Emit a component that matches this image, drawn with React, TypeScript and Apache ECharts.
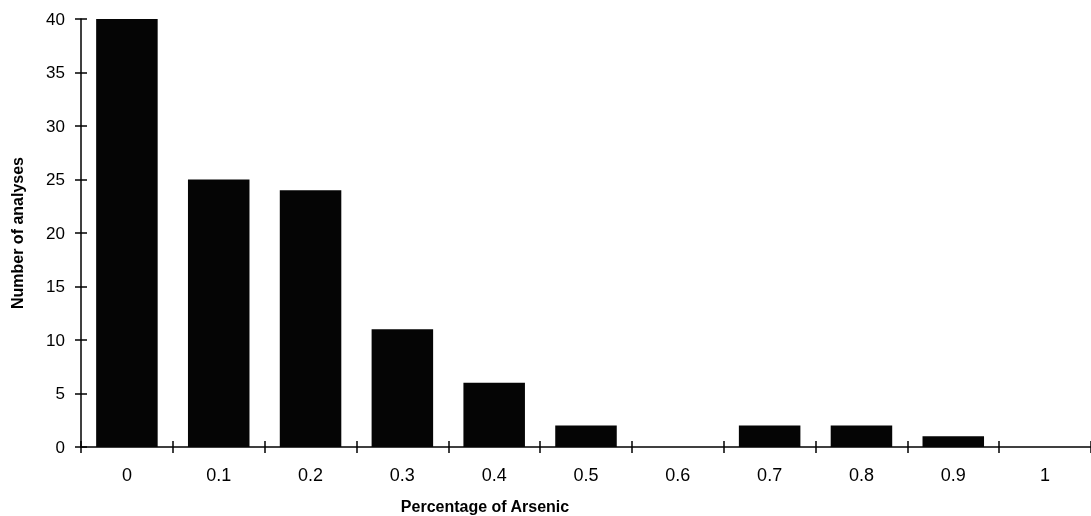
import React, { useEffect, useRef } from "react";
import * as echarts from "echarts";

const categories = ["0", "0.1", "0.2", "0.3", "0.4", "0.5", "0.6", "0.7", "0.8", "0.9", "1"];
const counts = [40, 25, 24, 11, 6, 2, 0, 2, 2, 1, 0];
const yTicks = { min: 0, max: 40, interval: 5 };

export default function App() {
  const ref = useRef<HTMLDivElement>(null);
  useEffect(() => {
    const chart = echarts.init(ref.current!, null, { renderer: "svg" });
    const font = "Arial, 'Liberation Sans', Helvetica, sans-serif";
    const axisLine = { lineStyle: { color: "#000", width: 1.5 } };
    const tickStyle = { color: "#000", width: 1.5 };
    chart.setOption({
      animation: false,
      grid: { left: 81, top: 19, right: 0, bottom: 69 },
      xAxis: [
        {
          type: "category",
          data: categories,
          axisLine,
          axisTick: { show: true, length: 6, lineStyle: tickStyle },
          axisLabel: { color: "#000", fontFamily: font, fontSize: 18, margin: 19 },
        },
        {
          type: "category",
          data: categories,
          position: "bottom",
          axisLine: { show: false },
          axisTick: { show: true, inside: true, length: 6, lineStyle: tickStyle },
          axisLabel: { show: false },
        },
      ],
      yAxis: [
        {
          type: "value",
          min: yTicks.min,
          max: yTicks.max,
          interval: yTicks.interval,
          splitLine: { show: false },
          axisLine: { show: true, ...axisLine },
          axisTick: { show: true, length: 6, lineStyle: tickStyle },
          axisLabel: { color: "#000", fontFamily: font, fontSize: 17, margin: 16 },
        },
        {
          type: "value",
          position: "left",
          min: yTicks.min,
          max: yTicks.max,
          interval: yTicks.interval,
          splitLine: { show: false },
          axisLine: { show: false },
          axisTick: { show: true, inside: true, length: 6, lineStyle: tickStyle },
          axisLabel: { show: false },
        },
      ],
      series: [
        {
          type: "bar",
          data: counts,
          barCategoryGap: "33%",
          itemStyle: { color: "#050505" },
        },
      ],
      graphic: [
        {
          type: "text",
          x: 17,
          y: 233,
          rotation: Math.PI / 2,
          style: {
            text: "Number of analyses",
            fill: "#000",
            font: `bold 16px ${font}`,
            align: "center",
            verticalAlign: "middle",
          },
        },
        {
          type: "text",
          x: 485,
          y: 506,
          style: {
            text: "Percentage of Arsenic",
            fill: "#000",
            font: `bold 16px ${font}`,
            align: "center",
            verticalAlign: "middle",
          },
        },
      ],
    });
    return () => chart.dispose();
  }, []);
  return (
    <div style={{ position: "fixed", left: 0, top: 0 }}>
      <div ref={ref} style={{ width: 1091, height: 516 }} />
    </div>
  );
}
